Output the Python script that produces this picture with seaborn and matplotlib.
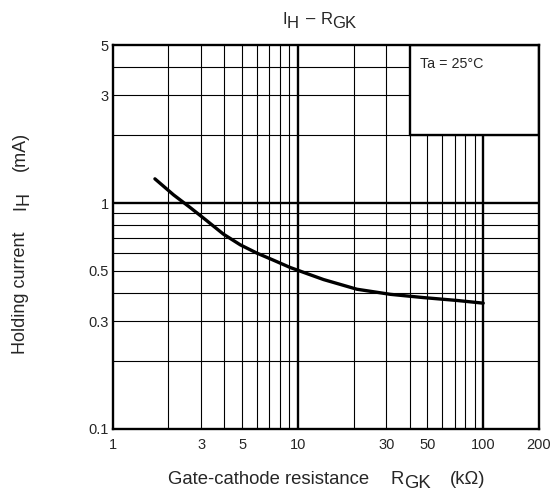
import numpy as np
import pandas as pd
import matplotlib
matplotlib.use("Agg")
import matplotlib.pyplot as plt
import matplotlib.ticker as mticker
from matplotlib.patches import Rectangle
import seaborn as sns

# ---- data ----
rgk_kohm = [1.69, 2.13, 2.62, 3.22, 3.96, 4.88, 6.0, 7.38, 9.08, 11.4, 13.75,
            20.8, 31.5, 47.7, 72.3, 100.0]
ih_ma = [1.28, 1.087, 0.955, 0.835, 0.728, 0.653, 0.600, 0.558, 0.518, 0.484, 0.458,
         0.415, 0.394, 0.381, 0.370, 0.360]

x_ticks = [1, 3, 5, 10, 30, 50, 100, 200]
x_ticklabels = ["1", "3", "5", "10", "30", "50", "100", "200"]
y_ticks = [0.1, 0.3, 0.5, 1, 3, 5]
y_ticklabels = ["0.1", "0.3", "0.5", "1", "3", "5"]
x_grid = [2, 3, 4, 5, 6, 7, 8, 9, 10, 20, 30, 40, 50, 60, 70, 80, 90, 100]
y_grid = [0.2, 0.3, 0.4, 0.5, 0.6, 0.7, 0.8, 0.9, 1, 2, 3, 4]
major_x = [10, 100]
major_y = [1]
box_x = (40, 200)
box_y = (2, 5)
box_text = "Ta = 25°C"

# text pieces: (text, gap before in pt, is_subscript)
title_pieces = [("I", 0, False), ("H", 0, True), ("–", 5, False), ("R", 4, False), ("GK", 0, True)]
xlabel_pieces = [("Gate-cathode resistance", 0, False), ("R", 16, False), ("GK", 0, True),
                 ("(kΩ)", 13.5, False)]
ylabel_pieces = [("Holding current", 0, False), ("I", 15, False), ("H", 0, True),
                 ("(mA)", 15, False)]

df = pd.DataFrame({"R": rgk_kohm, "I": ih_ma})

sns.set_style("white")
plt.rcParams["font.family"] = ["Liberation Sans", "DejaVu Sans"]

W, H = 559, 499
fig = plt.figure(figsize=(W / 100, H / 100), dpi=100)
ax = fig.add_axes([112.7 / W, 1 - 428.7 / H, (539 - 112.7) / W, (428.7 - 45.3) / H])

sns.lineplot(data=df, x="R", y="I", ax=ax, color="black", linewidth=2.4, zorder=5)

ax.set_xscale("log")
ax.set_yscale("log")
ax.set_xlim(1, 200)
ax.set_ylim(0.1, 5)
ax.set_xlabel("")
ax.set_ylabel("")

ax.xaxis.set_major_locator(mticker.FixedLocator(x_ticks))
ax.xaxis.set_major_formatter(mticker.FixedFormatter(x_ticklabels))
ax.yaxis.set_major_locator(mticker.FixedLocator(y_ticks))
ax.yaxis.set_major_formatter(mticker.FixedFormatter(y_ticklabels))
ax.xaxis.set_minor_locator(mticker.FixedLocator(x_grid))
ax.yaxis.set_minor_locator(mticker.FixedLocator(y_grid))
ax.xaxis.set_minor_formatter(mticker.NullFormatter())
ax.yaxis.set_minor_formatter(mticker.NullFormatter())
ax.xaxis.remove_overlapping_locs = False
ax.yaxis.remove_overlapping_locs = False

ax.grid(False, which="major")
ax.grid(True, which="minor", color="black", linewidth=0.8)
ax.tick_params(which="both", length=0)
ax.tick_params(axis="x", which="major", pad=7, labelsize=10.5)
ax.tick_params(axis="y", which="major", pad=3, labelsize=10.5)

fig.canvas.draw()
for t in ax.xaxis.get_minor_ticks():
    if any(abs(t.get_loc() - m) < 1e-9 for m in major_x):
        t.gridline.set_linewidth(1.7)
for t in ax.yaxis.get_minor_ticks():
    if any(abs(t.get_loc() - m) < 1e-9 for m in major_y):
        t.gridline.set_linewidth(1.7)

for s in ax.spines.values():
    s.set_linewidth(1.7)
    s.set_color("black")
    s.set_zorder(6)

rect = Rectangle((box_x[0], box_y[0]), box_x[1] - box_x[0], box_y[1] - box_y[0],
                 facecolor="white", edgecolor="black", linewidth=1.7, zorder=4)
ax.add_patch(rect)
ax.text(45.5, 4.15, box_text, fontsize=10.3, ha="left", va="center", zorder=6)

SUB = 2.6  # subscript drop in points


def chain_h(pieces, x_px, y_px, size):
    first = fig.text(x_px / W, 1 - y_px / H, pieces[0][0], fontsize=size,
                     ha="left", va="baseline")
    prev, prev_sub = first, pieces[0][2]
    for txt, gap, sub in pieces[1:]:
        dy = (-SUB if sub else 0) - (-SUB if prev_sub else 0)
        prev = ax.annotate(txt, xy=(1, 0), xycoords=prev, xytext=(gap, dy),
                           textcoords="offset points", ha="left", va="bottom",
                           fontsize=size, annotation_clip=False)
        prev_sub = sub


def chain_v(pieces, x_px, y_px, size):
    first = fig.text(x_px / W, 1 - y_px / H, pieces[0][0], fontsize=size,
                     ha="center", va="bottom", rotation=90)
    prev, prev_sub = first, pieces[0][2]
    for txt, gap, sub in pieces[1:]:
        dx = (SUB if sub else 0) - (SUB if prev_sub else 0)
        prev = ax.annotate(txt, xy=(0.5, 1), xycoords=prev, xytext=(dx, gap),
                           textcoords="offset points", ha="center", va="bottom",
                           fontsize=size, rotation=90, annotation_clip=False)
        prev_sub = sub


chain_h(title_pieces, 282, 24, 12)
chain_h(xlabel_pieces, 167.5, 484, 13.3)
chain_v(ylabel_pieces, 20.5, 353.5, 13)

fig.savefig("out.png", dpi=100)
